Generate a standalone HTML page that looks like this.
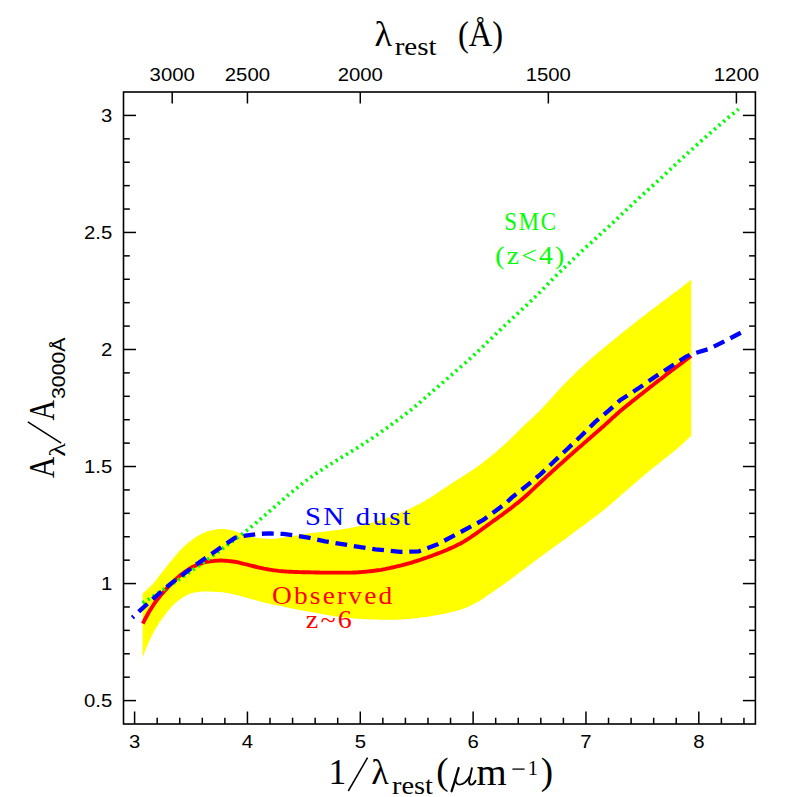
<!DOCTYPE html>
<html><head><meta charset="utf-8"><style>
html,body{margin:0;padding:0;background:#fff;}
svg{display:block}
text{font-family:"Liberation Serif",serif;}
text.ss{font-family:"Liberation Sans",sans-serif;}
</style></head><body>
<svg width="797" height="797" viewBox="0 0 797 797">
<rect width="797" height="797" fill="#fff"/>
<path d="M142.6,593.4 L145.4,591.1 L148.1,588.6 L150.9,585.9 L153.6,583.0 L156.4,579.7 L159.1,576.1 L161.9,572.5 L164.7,569.0 L167.4,565.5 L170.2,562.1 L172.9,558.7 L175.7,555.4 L178.4,552.2 L181.2,549.2 L184.0,546.5 L186.7,544.1 L189.5,541.8 L192.2,539.7 L195.0,537.8 L197.7,536.1 L200.5,534.5 L203.2,533.1 L206.0,532.0 L208.8,531.1 L211.5,530.4 L214.3,529.8 L217.0,529.3 L219.8,529.1 L222.5,529.1 L225.3,529.2 L228.1,529.4 L230.8,529.9 L233.6,530.8 L236.3,531.7 L239.1,532.7 L241.8,533.8 L244.6,534.8 L247.4,535.6 L250.1,536.5 L252.9,537.2 L255.6,537.8 L258.4,538.1 L261.1,538.4 L263.9,538.6 L266.7,538.8 L269.4,538.9 L272.2,538.9 L274.9,538.7 L277.7,538.3 L280.4,538.0 L283.2,537.6 L286.0,537.2 L288.7,536.8 L291.5,536.3 L294.2,535.8 L297.0,535.4 L299.7,534.9 L302.5,534.3 L305.3,533.9 L308.0,533.4 L310.8,533.1 L313.5,532.8 L316.3,532.5 L319.0,532.2 L321.8,531.9 L324.5,531.6 L327.3,531.2 L330.1,530.9 L332.8,530.6 L335.6,530.2 L338.3,529.8 L341.1,529.5 L343.8,529.0 L346.6,528.6 L349.4,528.1 L352.1,527.6 L354.9,527.1 L357.6,526.5 L360.4,525.8 L363.1,525.1 L365.9,524.4 L368.7,523.6 L371.4,522.8 L374.2,522.0 L376.9,521.2 L379.7,520.4 L382.4,519.5 L385.2,518.6 L388.0,517.6 L390.7,516.7 L393.5,515.6 L396.2,514.6 L399.0,513.5 L401.7,512.3 L404.5,511.1 L407.3,509.9 L410.0,508.6 L412.8,507.2 L415.5,505.8 L418.3,504.4 L421.0,502.9 L423.8,501.4 L426.5,499.8 L429.3,498.2 L432.1,496.4 L434.8,494.7 L437.6,492.8 L440.3,491.0 L443.1,489.1 L445.8,487.2 L448.6,485.4 L451.4,483.6 L454.1,481.8 L456.9,480.1 L459.6,478.4 L462.4,476.6 L465.1,474.9 L467.9,473.1 L470.7,471.3 L473.4,469.4 L476.2,467.5 L478.9,465.5 L481.7,463.4 L484.4,461.3 L487.2,459.1 L490.0,456.9 L492.7,454.7 L495.5,452.4 L498.2,450.0 L501.0,447.6 L503.7,445.2 L506.5,442.6 L509.3,440.0 L512.0,437.3 L514.8,434.6 L517.5,431.9 L520.3,429.1 L523.0,426.5 L525.8,423.8 L528.5,421.3 L531.3,418.8 L534.1,416.2 L536.8,413.6 L539.6,410.9 L542.3,408.1 L545.1,405.1 L547.8,402.1 L550.6,399.0 L553.4,395.9 L556.1,392.8 L558.9,389.8 L561.6,386.9 L564.4,384.0 L567.1,381.2 L569.9,378.4 L572.7,375.7 L575.4,373.0 L578.2,370.3 L580.9,367.7 L583.7,365.2 L586.4,362.7 L589.2,360.3 L592.0,357.8 L594.7,355.5 L597.5,353.1 L600.2,350.8 L603.0,348.5 L605.7,346.2 L608.5,343.9 L611.3,341.7 L614.0,339.5 L616.8,337.2 L619.5,335.0 L622.3,332.8 L625.0,330.6 L627.8,328.4 L630.6,326.2 L633.3,324.0 L636.1,321.8 L638.8,319.6 L641.6,317.5 L644.3,315.4 L647.1,313.2 L649.8,311.1 L652.6,309.1 L655.4,307.0 L658.1,304.9 L660.9,302.8 L663.6,300.7 L666.4,298.7 L669.1,296.7 L671.9,294.6 L674.7,292.5 L677.4,290.5 L680.2,288.4 L682.9,286.2 L685.7,284.0 L688.4,281.8 L691.2,279.6 L691.2,435.7 L688.4,438.3 L685.7,440.9 L682.9,443.4 L680.2,445.9 L677.4,448.4 L674.7,450.7 L671.9,453.0 L669.1,455.3 L666.4,457.5 L663.6,459.6 L660.9,461.8 L658.1,463.9 L655.4,466.0 L652.6,468.2 L649.8,470.5 L647.1,472.8 L644.3,475.1 L641.6,477.4 L638.8,479.8 L636.1,482.2 L633.3,484.5 L630.6,486.9 L627.8,489.3 L625.0,491.7 L622.3,494.0 L619.5,496.5 L616.8,498.9 L614.0,501.3 L611.3,503.7 L608.5,506.1 L605.7,508.4 L603.0,510.7 L600.2,512.8 L597.5,514.9 L594.7,517.0 L592.0,519.1 L589.2,521.1 L586.4,523.2 L583.7,525.2 L580.9,527.2 L578.2,529.2 L575.4,531.3 L572.7,533.3 L569.9,535.4 L567.1,537.4 L564.4,539.5 L561.6,541.5 L558.9,543.5 L556.1,545.5 L553.4,547.5 L550.6,549.5 L547.8,551.5 L545.1,553.5 L542.3,555.5 L539.6,557.5 L536.8,559.6 L534.1,561.6 L531.3,563.7 L528.5,565.8 L525.8,567.9 L523.0,570.0 L520.3,572.0 L517.5,574.1 L514.8,576.2 L512.0,578.3 L509.3,580.3 L506.5,582.3 L503.7,584.3 L501.0,586.2 L498.2,588.1 L495.5,590.0 L492.7,591.9 L490.0,593.8 L487.2,595.8 L484.4,597.8 L481.7,599.6 L478.9,601.2 L476.2,602.8 L473.4,604.3 L470.7,605.6 L467.9,606.9 L465.1,608.0 L462.4,609.0 L459.6,609.9 L456.9,610.7 L454.1,611.4 L451.4,612.1 L448.6,612.8 L445.8,613.4 L443.1,614.0 L440.3,614.5 L437.6,615.1 L434.8,615.6 L432.1,616.1 L429.3,616.6 L426.5,617.0 L423.8,617.3 L421.0,617.6 L418.3,617.9 L415.5,618.2 L412.8,618.5 L410.0,618.7 L407.3,619.0 L404.5,619.2 L401.7,619.4 L399.0,619.6 L396.2,619.7 L393.5,619.8 L390.7,619.8 L388.0,619.8 L385.2,619.8 L382.4,619.7 L379.7,619.7 L376.9,619.6 L374.2,619.5 L371.4,619.4 L368.7,619.3 L365.9,619.2 L363.1,619.0 L360.4,618.9 L357.6,618.8 L354.9,618.6 L352.1,618.3 L349.4,618.1 L346.6,617.8 L343.8,617.5 L341.1,617.1 L338.3,616.8 L335.6,616.4 L332.8,615.9 L330.1,615.5 L327.3,615.0 L324.5,614.5 L321.8,613.9 L319.0,613.4 L316.3,612.9 L313.5,612.4 L310.8,612.0 L308.0,611.5 L305.3,611.0 L302.5,610.5 L299.7,610.0 L297.0,609.5 L294.2,609.0 L291.5,608.4 L288.7,607.8 L286.0,607.2 L283.2,606.6 L280.4,606.1 L277.7,605.5 L274.9,605.0 L272.2,604.4 L269.4,603.8 L266.7,603.2 L263.9,602.5 L261.1,601.7 L258.4,601.0 L255.6,600.3 L252.9,599.5 L250.1,598.7 L247.4,597.9 L244.6,597.2 L241.8,596.4 L239.1,595.6 L236.3,594.9 L233.6,594.2 L230.8,593.7 L228.1,593.1 L225.3,592.7 L222.5,592.3 L219.8,592.1 L217.0,591.9 L214.3,591.8 L211.5,591.7 L208.8,591.6 L206.0,591.6 L203.2,591.6 L200.5,591.8 L197.7,592.1 L195.0,592.5 L192.2,592.9 L189.5,593.8 L186.7,595.2 L184.0,596.8 L181.2,598.5 L178.4,600.5 L175.7,602.8 L172.9,605.3 L170.2,608.2 L167.4,611.6 L164.7,615.3 L161.9,619.1 L159.1,623.1 L156.4,627.4 L153.6,632.1 L150.9,637.4 L148.1,643.6 L145.4,650.3 L142.6,657.6Z" fill="#ffff00"/>
<path d="M142.8,623.6 L144.6,620.0 L146.5,616.5 L148.3,613.2 L150.1,610.1 L152.0,607.2 L153.8,604.4 L155.6,601.8 L157.5,599.4 L159.3,597.1 L161.1,594.8 L163.0,592.7 L164.8,590.6 L166.6,588.6 L168.5,586.6 L170.3,584.8 L172.1,582.9 L174.0,581.2 L175.8,579.4 L177.6,577.7 L179.5,576.1 L181.3,574.6 L183.2,573.2 L185.0,571.8 L186.8,570.6 L188.7,569.3 L190.5,568.2 L192.3,567.1 L194.2,566.2 L196.0,565.4 L197.8,564.7 L199.7,563.9 L201.5,563.3 L203.3,562.7 L205.2,562.2 L207.0,561.8 L208.8,561.5 L210.7,561.3 L212.5,561.1 L214.3,560.8 L216.2,560.7 L218.0,560.6 L219.8,560.5 L221.7,560.5 L223.5,560.6 L225.3,560.7 L227.2,560.9 L229.0,561.1 L230.8,561.3 L232.7,561.5 L234.5,561.7 L236.3,562.0 L238.2,562.4 L240.0,562.9 L241.8,563.3 L243.7,563.8 L245.5,564.2 L247.3,564.6 L249.2,565.1 L251.0,565.6 L252.8,566.0 L254.7,566.5 L256.5,567.0 L258.3,567.4 L260.2,567.8 L262.0,568.2 L263.9,568.6 L265.7,568.9 L267.5,569.3 L269.4,569.6 L271.2,569.9 L273.0,570.2 L274.9,570.4 L276.7,570.6 L278.5,570.9 L280.4,571.1 L282.2,571.2 L284.0,571.4 L285.9,571.5 L287.7,571.6 L289.5,571.7 L291.4,571.8 L293.2,571.9 L295.0,572.0 L296.9,572.0 L298.7,572.1 L300.5,572.1 L302.4,572.2 L304.2,572.2 L306.0,572.3 L307.9,572.3 L309.7,572.3 L311.5,572.4 L313.4,572.4 L315.2,572.5 L317.0,572.5 L318.9,572.5 L320.7,572.6 L322.5,572.6 L324.4,572.6 L326.2,572.6 L328.0,572.6 L329.9,572.6 L331.7,572.6 L333.5,572.6 L335.4,572.6 L337.2,572.6 L339.1,572.6 L340.9,572.6 L342.7,572.6 L344.6,572.6 L346.4,572.6 L348.2,572.6 L350.1,572.6 L351.9,572.6 L353.7,572.5 L355.6,572.5 L357.4,572.4 L359.2,572.2 L361.1,572.1 L362.9,571.9 L364.7,571.8 L366.6,571.6 L368.4,571.4 L370.2,571.2 L372.1,571.0 L373.9,570.8 L375.7,570.5 L377.6,570.3 L379.4,570.1 L381.2,569.8 L383.1,569.4 L384.9,569.1 L386.7,568.7 L388.6,568.3 L390.4,567.9 L392.2,567.5 L394.1,567.1 L395.9,566.7 L397.7,566.2 L399.6,565.8 L401.4,565.4 L403.2,564.9 L405.1,564.4 L406.9,563.9 L408.7,563.4 L410.6,562.9 L412.4,562.3 L414.2,561.7 L416.1,561.2 L417.9,560.6 L419.8,560.0 L421.6,559.4 L423.4,558.7 L425.3,558.1 L427.1,557.5 L428.9,556.8 L430.8,556.2 L432.6,555.5 L434.4,554.8 L436.3,554.1 L438.1,553.4 L439.9,552.7 L441.8,552.0 L443.6,551.3 L445.4,550.5 L447.3,549.7 L449.1,548.9 L450.9,548.1 L452.8,547.3 L454.6,546.4 L456.4,545.5 L458.3,544.6 L460.1,543.7 L461.9,542.7 L463.8,541.6 L465.6,540.5 L467.4,539.4 L469.3,538.2 L471.1,537.0 L472.9,535.7 L474.8,534.5 L476.6,533.2 L478.4,531.8 L480.3,530.5 L482.1,529.2 L483.9,527.8 L485.8,526.5 L487.6,525.1 L489.4,523.8 L491.3,522.5 L493.1,521.2 L494.9,519.9 L496.8,518.6 L498.6,517.2 L500.5,515.9 L502.3,514.6 L504.1,513.2 L506.0,511.9 L507.8,510.5 L509.6,509.1 L511.5,507.7 L513.3,506.3 L515.1,504.8 L517.0,503.4 L518.8,501.9 L520.6,500.4 L522.5,498.9 L524.3,497.3 L526.1,495.7 L528.0,494.0 L529.8,492.3 L531.6,490.6 L533.5,488.9 L535.3,487.2 L537.1,485.4 L539.0,483.7 L540.8,482.0 L542.6,480.3 L544.5,478.6 L546.3,476.9 L548.1,475.2 L550.0,473.6 L551.8,471.9 L553.6,470.2 L555.5,468.6 L557.3,466.9 L559.1,465.3 L561.0,463.6 L562.8,462.0 L564.6,460.3 L566.5,458.7 L568.3,457.0 L570.1,455.4 L572.0,453.7 L573.8,452.1 L575.7,450.5 L577.5,448.9 L579.3,447.3 L581.2,445.7 L583.0,444.1 L584.8,442.5 L586.7,440.9 L588.5,439.3 L590.3,437.7 L592.2,436.1 L594.0,434.5 L595.8,432.9 L597.7,431.3 L599.5,429.7 L601.3,428.1 L603.2,426.5 L605.0,424.9 L606.8,423.2 L608.7,421.5 L610.5,419.8 L612.3,418.1 L614.2,416.5 L616.0,414.8 L617.8,413.2 L619.7,411.6 L621.5,410.1 L623.3,408.6 L625.2,407.0 L627.0,405.5 L628.8,404.1 L630.7,402.6 L632.5,401.1 L634.3,399.7 L636.2,398.2 L638.0,396.8 L639.8,395.3 L641.7,393.9 L643.5,392.4 L645.3,391.0 L647.2,389.5 L649.0,388.1 L650.8,386.6 L652.7,385.2 L654.5,383.8 L656.4,382.3 L658.2,380.9 L660.0,379.5 L661.9,378.1 L663.7,376.7 L665.5,375.3 L667.4,373.8 L669.2,372.4 L671.0,371.0 L672.9,369.7 L674.7,368.3 L676.5,366.9 L678.4,365.5 L680.2,364.1 L682.0,362.8 L683.9,361.4 L685.7,360.0 L687.5,358.7 L689.4,357.3 L691.2,356.0" fill="none" stroke="#ff0000" stroke-width="3.9" stroke-linejoin="round"/>
<path d="M142.6,602.9 L144.6,601.7 L146.6,600.4 L148.6,599.2 L150.6,597.9 L152.6,596.7 L154.6,595.4 L156.6,594.2 L158.5,592.9 L160.5,591.6 L162.5,590.3 L164.5,589.0 L166.5,587.7 L168.5,586.4 L170.5,585.1 L172.5,583.7 L174.5,582.4 L176.5,581.1 L178.5,579.7 L180.5,578.4 L182.5,577.0 L184.5,575.7 L186.5,574.3 L188.4,572.9 L190.4,571.6 L192.4,570.2 L194.4,568.8 L196.4,567.4 L198.4,566.0 L200.4,564.6 L202.4,563.2 L204.4,561.7 L206.4,560.3 L208.4,558.9 L210.4,557.5 L212.4,556.0 L214.4,554.6 L216.4,553.1 L218.3,551.7 L220.3,550.2 L222.3,548.8 L224.3,547.3 L226.3,545.8 L228.3,544.3 L230.3,542.9 L232.3,541.4 L234.3,539.9 L236.3,538.4 L238.3,536.9 L240.3,535.4 L242.3,533.9 L244.3,532.3 L246.3,530.8 L248.2,529.2 L250.2,527.6 L252.2,526.0 L254.2,524.3 L256.2,522.7 L258.2,521.0 L260.2,519.3 L262.2,517.6 L264.2,515.9 L266.2,514.2 L268.2,512.4 L270.2,510.7 L272.2,509.0 L274.2,507.2 L276.2,505.5 L278.1,503.8 L280.1,502.0 L282.1,500.3 L284.1,498.6 L286.1,496.9 L288.1,495.2 L290.1,493.5 L292.1,491.9 L294.1,490.2 L296.1,488.6 L298.1,487.0 L300.1,485.4 L302.1,483.8 L304.1,482.3 L306.1,480.8 L308.0,479.3 L310.0,477.8 L312.0,476.4 L314.0,475.0 L316.0,473.6 L318.0,472.3 L320.0,470.9 L322.0,469.6 L324.0,468.3 L326.0,467.0 L328.0,465.8 L330.0,464.5 L332.0,463.3 L334.0,462.0 L336.0,460.8 L337.9,459.6 L339.9,458.4 L341.9,457.2 L343.9,456.0 L345.9,454.8 L347.9,453.6 L349.9,452.3 L351.9,451.1 L353.9,449.9 L355.9,448.7 L357.9,447.4 L359.9,446.2 L361.9,444.9 L363.9,443.6 L365.9,442.3 L367.8,441.0 L369.8,439.7 L371.8,438.4 L373.8,437.0 L375.8,435.6 L377.8,434.2 L379.8,432.8 L381.8,431.4 L383.8,430.0 L385.8,428.6 L387.8,427.2 L389.8,425.7 L391.8,424.3 L393.8,422.9 L395.8,421.4 L397.7,420.0 L399.7,418.5 L401.7,417.0 L403.7,415.5 L405.7,414.0 L407.7,412.5 L409.7,410.9 L411.7,409.3 L413.7,407.7 L415.7,406.0 L417.7,404.3 L419.7,402.6 L421.7,400.8 L423.7,399.1 L425.7,397.4 L427.6,395.6 L429.6,393.9 L431.6,392.2 L433.6,390.4 L435.6,388.7 L437.6,387.0 L439.6,385.2 L441.6,383.5 L443.6,381.8 L445.6,380.0 L447.6,378.3 L449.6,376.5 L451.6,374.8 L453.6,373.1 L455.5,371.3 L457.5,369.6 L459.5,367.9 L461.5,366.2 L463.5,364.4 L465.5,362.7 L467.5,360.9 L469.5,359.1 L471.5,357.3 L473.5,355.5 L475.5,353.6 L477.5,351.7 L479.5,349.8 L481.5,347.9 L483.5,346.0 L485.4,344.0 L487.4,342.1 L489.4,340.2 L491.4,338.3 L493.4,336.4 L495.4,334.5 L497.4,332.6 L499.4,330.7 L501.4,328.8 L503.4,326.9 L505.4,325.0 L507.4,323.1 L509.4,321.2 L511.4,319.3 L513.4,317.4 L515.3,315.6 L517.3,313.8 L519.3,311.9 L521.3,310.1 L523.3,308.3 L525.3,306.4 L527.3,304.6 L529.3,302.7 L531.3,300.7 L533.3,298.8 L535.3,296.8 L537.3,294.8 L539.3,292.8 L541.3,290.8 L543.3,288.8 L545.2,286.7 L547.2,284.7 L549.2,282.7 L551.2,280.6 L553.2,278.6 L555.2,276.6 L557.2,274.6 L559.2,272.7 L561.2,270.7 L563.2,268.8 L565.2,266.9 L567.2,265.0 L569.2,263.1 L571.2,261.2 L573.2,259.3 L575.1,257.4 L577.1,255.5 L579.1,253.7 L581.1,251.8 L583.1,249.9 L585.1,248.1 L587.1,246.2 L589.1,244.4 L591.1,242.6 L593.1,240.8 L595.1,239.0 L597.1,237.2 L599.1,235.4 L601.1,233.6 L603.1,231.8 L605.0,229.9 L607.0,228.1 L609.0,226.3 L611.0,224.4 L613.0,222.6 L615.0,220.7 L617.0,218.8 L619.0,216.9 L621.0,215.0 L623.0,213.1 L625.0,211.2 L627.0,209.3 L629.0,207.4 L631.0,205.6 L633.0,203.7 L634.9,201.8 L636.9,200.0 L638.9,198.2 L640.9,196.3 L642.9,194.5 L644.9,192.7 L646.9,190.9 L648.9,189.1 L650.9,187.3 L652.9,185.5 L654.9,183.7 L656.9,181.9 L658.9,180.1 L660.9,178.3 L662.9,176.4 L664.8,174.6 L666.8,172.7 L668.8,170.8 L670.8,168.9 L672.8,167.1 L674.8,165.2 L676.8,163.3 L678.8,161.4 L680.8,159.6 L682.8,157.7 L684.8,155.9 L686.8,154.0 L688.8,152.2 L690.8,150.4 L692.8,148.6 L694.7,146.8 L696.7,145.0 L698.7,143.2 L700.7,141.4 L702.7,139.6 L704.7,137.9 L706.7,136.1 L708.7,134.4 L710.7,132.6 L712.7,130.9 L714.7,129.2 L716.7,127.5 L718.7,125.7 L720.7,124.0 L722.7,122.4 L724.6,120.7 L726.6,119.0 L728.6,117.3 L730.6,115.7 L732.6,114.0 L734.6,112.4 L736.6,110.7 L738.6,109.1" fill="none" stroke="#00ff00" stroke-width="3.7" stroke-dasharray="2.3 3.7"/>
<path d="M132.3,617.7 L138.8,611.7 L152.6,599.1 L170.2,584.1 L195.3,565.2 L220.4,547.7 L235.4,537.6 L245.5,535.6 L258.0,533.9 L270.6,533.4 L283.1,533.9 L295.7,535.6 L308.2,537.6 L325.1,541.3 L350.2,545.5 L375.3,549.3 L400.4,551.8 L419.0,551.3 L437.6,544.3 L460.2,532.3 L482.8,520.2 L505.4,503.7 L512.0,497.4 L527.1,485.4 L540.7,474.1 L554.2,461.3 L567.8,448.5 L581.3,435.7 L594.9,422.2 L609.2,410.1 L620.0,400.3 L625.5,396.8 L640.0,387.3 L655.1,376.8 L670.1,367.0 L685.2,357.2 L691.2,354.2 L709.3,348.9 L724.3,341.4 L742.4,331.9" fill="none" stroke="#0000ff" stroke-width="4.3" stroke-dasharray="11.8 6.8" stroke-dashoffset="9.8" stroke-linejoin="round"/>
<g stroke="#000" stroke-width="1.5">
<line x1="134.60" y1="724.00" x2="134.60" y2="711.50"/>
<line x1="157.17" y1="724.00" x2="157.17" y2="717.70"/>
<line x1="179.74" y1="724.00" x2="179.74" y2="717.70"/>
<line x1="202.30" y1="724.00" x2="202.30" y2="717.70"/>
<line x1="224.87" y1="724.00" x2="224.87" y2="717.70"/>
<line x1="247.44" y1="724.00" x2="247.44" y2="711.50"/>
<line x1="270.01" y1="724.00" x2="270.01" y2="717.70"/>
<line x1="292.58" y1="724.00" x2="292.58" y2="717.70"/>
<line x1="315.14" y1="724.00" x2="315.14" y2="717.70"/>
<line x1="337.71" y1="724.00" x2="337.71" y2="717.70"/>
<line x1="360.28" y1="724.00" x2="360.28" y2="711.50"/>
<line x1="382.85" y1="724.00" x2="382.85" y2="717.70"/>
<line x1="405.42" y1="724.00" x2="405.42" y2="717.70"/>
<line x1="427.98" y1="724.00" x2="427.98" y2="717.70"/>
<line x1="450.55" y1="724.00" x2="450.55" y2="717.70"/>
<line x1="473.12" y1="724.00" x2="473.12" y2="711.50"/>
<line x1="495.69" y1="724.00" x2="495.69" y2="717.70"/>
<line x1="518.26" y1="724.00" x2="518.26" y2="717.70"/>
<line x1="540.82" y1="724.00" x2="540.82" y2="717.70"/>
<line x1="563.39" y1="724.00" x2="563.39" y2="717.70"/>
<line x1="585.96" y1="724.00" x2="585.96" y2="711.50"/>
<line x1="608.53" y1="724.00" x2="608.53" y2="717.70"/>
<line x1="631.10" y1="724.00" x2="631.10" y2="717.70"/>
<line x1="653.66" y1="724.00" x2="653.66" y2="717.70"/>
<line x1="676.23" y1="724.00" x2="676.23" y2="717.70"/>
<line x1="698.80" y1="724.00" x2="698.80" y2="711.50"/>
<line x1="721.37" y1="724.00" x2="721.37" y2="717.70"/>
<line x1="743.94" y1="724.00" x2="743.94" y2="717.70"/>
<line x1="172.21" y1="92.00" x2="172.21" y2="103.50"/>
<line x1="247.44" y1="92.00" x2="247.44" y2="103.50"/>
<line x1="360.28" y1="92.00" x2="360.28" y2="103.50"/>
<line x1="548.35" y1="92.00" x2="548.35" y2="103.50"/>
<line x1="736.41" y1="92.00" x2="736.41" y2="103.50"/>
<line x1="123.50" y1="700.59" x2="136.00" y2="700.59"/>
<line x1="755.40" y1="700.59" x2="742.90" y2="700.59"/>
<line x1="123.50" y1="677.19" x2="129.80" y2="677.19"/>
<line x1="755.40" y1="677.19" x2="749.10" y2="677.19"/>
<line x1="123.50" y1="653.78" x2="129.80" y2="653.78"/>
<line x1="755.40" y1="653.78" x2="749.10" y2="653.78"/>
<line x1="123.50" y1="630.37" x2="129.80" y2="630.37"/>
<line x1="755.40" y1="630.37" x2="749.10" y2="630.37"/>
<line x1="123.50" y1="606.97" x2="129.80" y2="606.97"/>
<line x1="755.40" y1="606.97" x2="749.10" y2="606.97"/>
<line x1="123.50" y1="583.56" x2="136.00" y2="583.56"/>
<line x1="755.40" y1="583.56" x2="742.90" y2="583.56"/>
<line x1="123.50" y1="560.15" x2="129.80" y2="560.15"/>
<line x1="755.40" y1="560.15" x2="749.10" y2="560.15"/>
<line x1="123.50" y1="536.74" x2="129.80" y2="536.74"/>
<line x1="755.40" y1="536.74" x2="749.10" y2="536.74"/>
<line x1="123.50" y1="513.34" x2="129.80" y2="513.34"/>
<line x1="755.40" y1="513.34" x2="749.10" y2="513.34"/>
<line x1="123.50" y1="489.93" x2="129.80" y2="489.93"/>
<line x1="755.40" y1="489.93" x2="749.10" y2="489.93"/>
<line x1="123.50" y1="466.52" x2="136.00" y2="466.52"/>
<line x1="755.40" y1="466.52" x2="742.90" y2="466.52"/>
<line x1="123.50" y1="443.12" x2="129.80" y2="443.12"/>
<line x1="755.40" y1="443.12" x2="749.10" y2="443.12"/>
<line x1="123.50" y1="419.71" x2="129.80" y2="419.71"/>
<line x1="755.40" y1="419.71" x2="749.10" y2="419.71"/>
<line x1="123.50" y1="396.30" x2="129.80" y2="396.30"/>
<line x1="755.40" y1="396.30" x2="749.10" y2="396.30"/>
<line x1="123.50" y1="372.89" x2="129.80" y2="372.89"/>
<line x1="755.40" y1="372.89" x2="749.10" y2="372.89"/>
<line x1="123.50" y1="349.49" x2="136.00" y2="349.49"/>
<line x1="755.40" y1="349.49" x2="742.90" y2="349.49"/>
<line x1="123.50" y1="326.08" x2="129.80" y2="326.08"/>
<line x1="755.40" y1="326.08" x2="749.10" y2="326.08"/>
<line x1="123.50" y1="302.67" x2="129.80" y2="302.67"/>
<line x1="755.40" y1="302.67" x2="749.10" y2="302.67"/>
<line x1="123.50" y1="279.27" x2="129.80" y2="279.27"/>
<line x1="755.40" y1="279.27" x2="749.10" y2="279.27"/>
<line x1="123.50" y1="255.86" x2="129.80" y2="255.86"/>
<line x1="755.40" y1="255.86" x2="749.10" y2="255.86"/>
<line x1="123.50" y1="232.45" x2="136.00" y2="232.45"/>
<line x1="755.40" y1="232.45" x2="742.90" y2="232.45"/>
<line x1="123.50" y1="209.05" x2="129.80" y2="209.05"/>
<line x1="755.40" y1="209.05" x2="749.10" y2="209.05"/>
<line x1="123.50" y1="185.64" x2="129.80" y2="185.64"/>
<line x1="755.40" y1="185.64" x2="749.10" y2="185.64"/>
<line x1="123.50" y1="162.23" x2="129.80" y2="162.23"/>
<line x1="755.40" y1="162.23" x2="749.10" y2="162.23"/>
<line x1="123.50" y1="138.83" x2="129.80" y2="138.83"/>
<line x1="755.40" y1="138.83" x2="749.10" y2="138.83"/>
<line x1="123.50" y1="115.42" x2="136.00" y2="115.42"/>
<line x1="755.40" y1="115.42" x2="742.90" y2="115.42"/>
</g>
<rect x="123.5" y="92.0" width="631.9" height="632.0" fill="none" stroke="#000" stroke-width="1.6"/>
<g fill="#000">
<text x="134.6" y="747.5" text-anchor="middle" class="ss" font-size="18" textLength="11.3" lengthAdjust="spacingAndGlyphs">3</text>
<text x="247.4" y="747.5" text-anchor="middle" class="ss" font-size="18" textLength="11.3" lengthAdjust="spacingAndGlyphs">4</text>
<text x="360.3" y="747.5" text-anchor="middle" class="ss" font-size="18" textLength="11.3" lengthAdjust="spacingAndGlyphs">5</text>
<text x="473.1" y="747.5" text-anchor="middle" class="ss" font-size="18" textLength="11.3" lengthAdjust="spacingAndGlyphs">6</text>
<text x="586.0" y="747.5" text-anchor="middle" class="ss" font-size="18" textLength="11.3" lengthAdjust="spacingAndGlyphs">7</text>
<text x="698.8" y="747.5" text-anchor="middle" class="ss" font-size="18" textLength="11.3" lengthAdjust="spacingAndGlyphs">8</text>
<text x="172.2" y="80.6" text-anchor="middle" class="ss" font-size="18" textLength="45.2" lengthAdjust="spacingAndGlyphs">3000</text>
<text x="247.4" y="80.6" text-anchor="middle" class="ss" font-size="18" textLength="45.2" lengthAdjust="spacingAndGlyphs">2500</text>
<text x="360.3" y="80.6" text-anchor="middle" class="ss" font-size="18" textLength="45.2" lengthAdjust="spacingAndGlyphs">2000</text>
<text x="548.3" y="80.6" text-anchor="middle" class="ss" font-size="18" textLength="45.2" lengthAdjust="spacingAndGlyphs">1500</text>
<text x="736.4" y="80.6" text-anchor="middle" class="ss" font-size="18" textLength="45.2" lengthAdjust="spacingAndGlyphs">1200</text>
<text x="112.2" y="707.1" text-anchor="end" class="ss" font-size="18" textLength="28.2" lengthAdjust="spacingAndGlyphs">0.5</text>
<text x="112.2" y="590.1" text-anchor="end" class="ss" font-size="18" textLength="11.3" lengthAdjust="spacingAndGlyphs">1</text>
<text x="112.2" y="473.0" text-anchor="end" class="ss" font-size="18" textLength="28.2" lengthAdjust="spacingAndGlyphs">1.5</text>
<text x="112.2" y="356.0" text-anchor="end" class="ss" font-size="18" textLength="11.3" lengthAdjust="spacingAndGlyphs">2</text>
<text x="112.2" y="239.0" text-anchor="end" class="ss" font-size="18" textLength="28.2" lengthAdjust="spacingAndGlyphs">2.5</text>
<text x="112.2" y="121.9" text-anchor="end" class="ss" font-size="18" textLength="11.3" lengthAdjust="spacingAndGlyphs">3</text>
</g>
<!-- labels -->
<text letter-spacing="2" x="504.3" y="229.6" font-size="26" fill="#00ff00" textLength="53.5" lengthAdjust="spacingAndGlyphs">SMC</text>
<text letter-spacing="2" x="495.3" y="263.8" font-size="26" fill="#00ff00" textLength="71.1" lengthAdjust="spacingAndGlyphs">(z&lt;4)</text>
<text letter-spacing="2" x="305" y="524.7" font-size="25" fill="#0000ff" textLength="107.9" lengthAdjust="spacingAndGlyphs" xml:space="preserve">SN dust</text>
<text letter-spacing="2" x="272" y="604.2" font-size="25" fill="#ff0000" textLength="122.4" lengthAdjust="spacingAndGlyphs">Observed</text>
<text letter-spacing="2" x="305.7" y="628" font-size="25" fill="#ff0000" textLength="48.4" lengthAdjust="spacingAndGlyphs">z~6</text>
<!-- top title -->
<text x="374.6" y="45.7" font-size="36">λ</text>
<text x="394.7" y="54.7" font-size="26" textLength="42" lengthAdjust="spacingAndGlyphs">rest</text>
<text x="457.9" y="45.7" font-size="36" textLength="45.2" lengthAdjust="spacingAndGlyphs">(Å)</text>
<!-- bottom title -->
<text x="328.5" y="784.4" font-size="35.5">1</text>
<line x1="348.3" y1="791" x2="367.6" y2="757.6" stroke="#000" stroke-width="1.5"/>
<text x="371.2" y="784.4" font-size="36" textLength="17.5" lengthAdjust="spacingAndGlyphs">λ</text>
<text x="392" y="794.4" font-size="25.5" textLength="41" lengthAdjust="spacingAndGlyphs">rest</text>
<text x="436.3" y="784.4" font-size="37">(</text>
<g fill="none" stroke="#000" stroke-linecap="round" stroke-linejoin="round">
<path d="M458.6,768.2 L454.2,783 L451.6,791.2" stroke-width="2.3"/>
<path d="M455.6,779.5 C455.2,786.2 463.5,787 469.3,777" stroke-width="1.7"/>
<path d="M471.9,768.2 L469.2,780.5 C468.4,785.6 472.8,786.2 475.6,780.8" stroke-width="1.9"/>
</g>
<text x="476.5" y="785" font-size="37" textLength="30.2" lengthAdjust="spacingAndGlyphs">m</text>
<line x1="512.4" y1="769.1" x2="524.6" y2="769.1" stroke="#000" stroke-width="1.3"/>
<text x="527.8" y="775.2" font-size="20.5">1</text>
<text x="540.8" y="784.4" font-size="37">)</text>
<!-- y title -->
<line x1="61.2" y1="443.2" x2="27.8" y2="421.8" stroke="#000" stroke-width="1.5"/>
<g transform="translate(53.9,478.1) rotate(-90)">
<text x="0" y="0" font-size="35" textLength="21.3" lengthAdjust="spacingAndGlyphs">A</text>
<text x="21.3" y="10.8" font-size="24" textLength="13.8" lengthAdjust="spacingAndGlyphs">λ</text>
<text x="57.7" y="0" font-size="35" textLength="20.5" lengthAdjust="spacingAndGlyphs">A</text>
<text x="79.1" y="10.8" font-size="18" class="ss" textLength="61.5" lengthAdjust="spacingAndGlyphs">3000Å</text>
</g>
</svg>
</body></html>
